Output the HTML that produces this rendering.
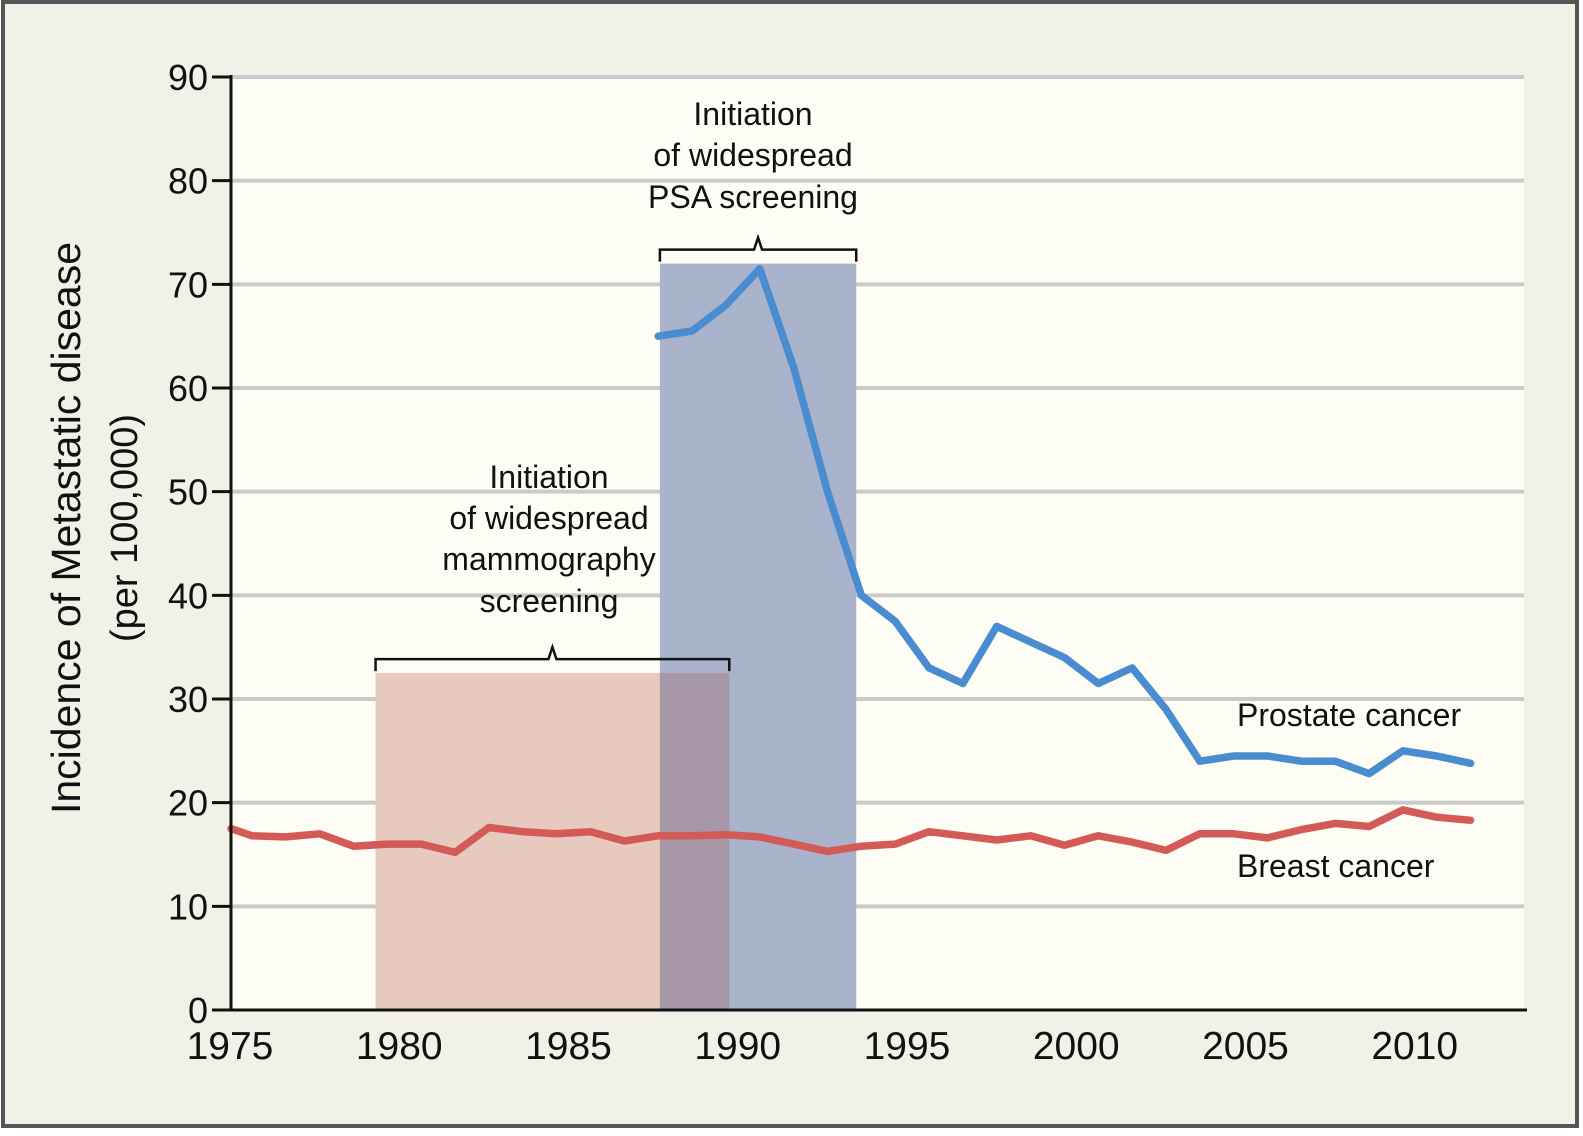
<!DOCTYPE html>
<html><head><meta charset="utf-8"><style>
html,body{margin:0;padding:0;background:#fff}
svg{display:block;font-family:"Liberation Sans",Arial,sans-serif}
</style></head><body>
<svg id="chart" width="1583" height="1136" viewBox="0 0 1583 1136">
<rect x="3" y="2" width="1574" height="1124" fill="#f2f1e7" stroke="#555" stroke-width="4"/>
<rect x="232" y="75" width="1292" height="935" fill="#fdfdf5"/>
<g id="grid"></g>
<g id="bands"></g>
<g id="series"></g>
<g id="axes"></g>
<text transform="translate(80,528) rotate(-90)" text-anchor="middle" font-size="41" fill="#111">Incidence of Metastatic disease</text>
<text transform="translate(137,528) rotate(-90)" text-anchor="middle" font-size="38" fill="#111">(per 100,000)</text>
<g font-size="32" fill="#111" text-anchor="middle">
<text x="753" y="125">Initiation</text>
<text x="753" y="166">of widespread</text>
<text x="753" y="208">PSA screening</text>
<text x="549" y="488">Initiation</text>
<text x="549" y="529">of widespread</text>
<text x="549" y="570">mammography</text>
<text x="549" y="612">screening</text>
</g>
<text x="1237" y="726" font-size="32" fill="#111">Prostate cancer</text>
<text x="1237" y="877" font-size="32" fill="#111">Breast cancer</text>
</svg>
<script>
const yTicks=[0,10,20,30,40,50,60,70,80,90];
const xTicks=[1975,1980,1985,1990,1995,2000,2005,2010];
const prostateYears=[1988,1989,1990,1991,1992,1993,1994,1995,1996,1997,1998,1999,2000,2001,2002,2003,2004,2005,2006,2007,2008,2009,2010,2011,2012];
const prostateValues=[65,65.5,68,71.5,62,50,40,37.5,33,31.5,37,35.5,34,31.5,33,29,24,24.5,24.5,24,24,22.8,25,24.5,23.8];
const breastYears=[1975,1976,1977,1978,1979,1980,1981,1982,1983,1984,1985,1986,1987,1988,1989,1990,1991,1992,1993,1994,1995,1996,1997,1998,1999,2000,2001,2002,2003,2004,2005,2006,2007,2008,2009,2010,2011,2012];
const breastValues=[17.5,16.8,16.7,17,15.8,16,16,15.2,17.6,17.2,17,17.2,16.3,16.8,16.8,16.9,16.7,16,15.3,15.8,16,17.2,16.8,16.4,16.8,15.9,16.8,16.2,15.4,17,17,16.6,17.4,18,17.7,19.3,18.6,18.3];
const mammoBand=[1979.3,1989.75,32.5];
const psaBand=[1987.7,1993.5,72];
const NS='http://www.w3.org/2000/svg';
const X=v=>230+(v-1975)*33.85;
const Y=v=>1010-v*(933/90);
const P=y=>X(y-0.35);
function mk(t,a,p){const e=document.createElementNS(NS,t);for(const k in a)e.setAttribute(k,a[k]);document.getElementById(p).appendChild(e);return e;}
yTicks.forEach(t=>{if(t>0){const g=mk('line',{x1:232,x2:1524,y1:Y(t),y2:Y(t),stroke:'#cacaca','stroke-width':4},'grid');

}
const tk=mk('line',{x1:212,x2:231,y1:Y(t),y2:Y(t),stroke:'#111','stroke-width':3},'axes');


const tl=mk('text',{x:208,y:Y(t)+13,'text-anchor':'end','font-size':36,fill:'#111'},'axes');tl.textContent=t;

});
xTicks.forEach(t=>{const tl=mk('text',{x:X(t),y:1059,'text-anchor':'middle','font-size':39,fill:'#111'},'axes');tl.textContent=t;

});
const ya=mk('line',{x1:231,x2:231,y1:Y(90)-2,y2:1011,stroke:'#111','stroke-width':3},'axes');


const xa=mk('line',{x1:230,x2:1527,y1:1010,y2:1010,stroke:'#111','stroke-width':3},'axes');


const m=mk('rect',{x:X(mammoBand[0]),y:Y(mammoBand[2]),width:X(mammoBand[1])-X(mammoBand[0]),height:1010-Y(mammoBand[2]),fill:'#e8c9bd'},'bands');


const p=mk('rect',{x:X(psaBand[0]),y:Y(psaBand[2]),width:X(psaBand[1])-X(psaBand[0]),height:1010-Y(psaBand[2]),fill:'#a9b3cc'},'bands');


const o=mk('rect',{x:X(psaBand[0]),y:Y(mammoBand[2]),width:X(mammoBand[1])-X(psaBand[0]),height:1010-Y(mammoBand[2]),fill:'#a797a6'},'bands');


function bracket(x1,x2,y,name){const mid=(x1+x2)/2;
const b=mk('path',{d:`M${x1},${y+16} L${x1},${y+4} L${mid-4},${y+4} L${mid},${y-8} L${mid+4},${y+4} L${x2},${y+4} L${x2},${y+16}`,fill:'none',stroke:'#111','stroke-width':2.5},'bands');

}
bracket(X(mammoBand[0]),X(mammoBand[1]),Y(mammoBand[2])-18,'mammography-bracket');
bracket(X(psaBand[0]),X(psaBand[1]),Y(psaBand[2])-18,'psa-bracket');
function line(xs,vs,c,name){const d=xs.map((y,i)=>(i?'L':'M')+Math.max(231,P(y)).toFixed(1)+','+Y(vs[i]).toFixed(1)).join(' ');
const l=mk('path',{d:d,fill:'none',stroke:c,'stroke-width':7.5,'stroke-linejoin':'round','stroke-linecap':'round'},'series');

}
line(breastYears,breastValues,'#d45a57','breast-cancer-line');
line(prostateYears,prostateValues,'#4a8cd0','prostate-cancer-line');
</script>
</body></html>
